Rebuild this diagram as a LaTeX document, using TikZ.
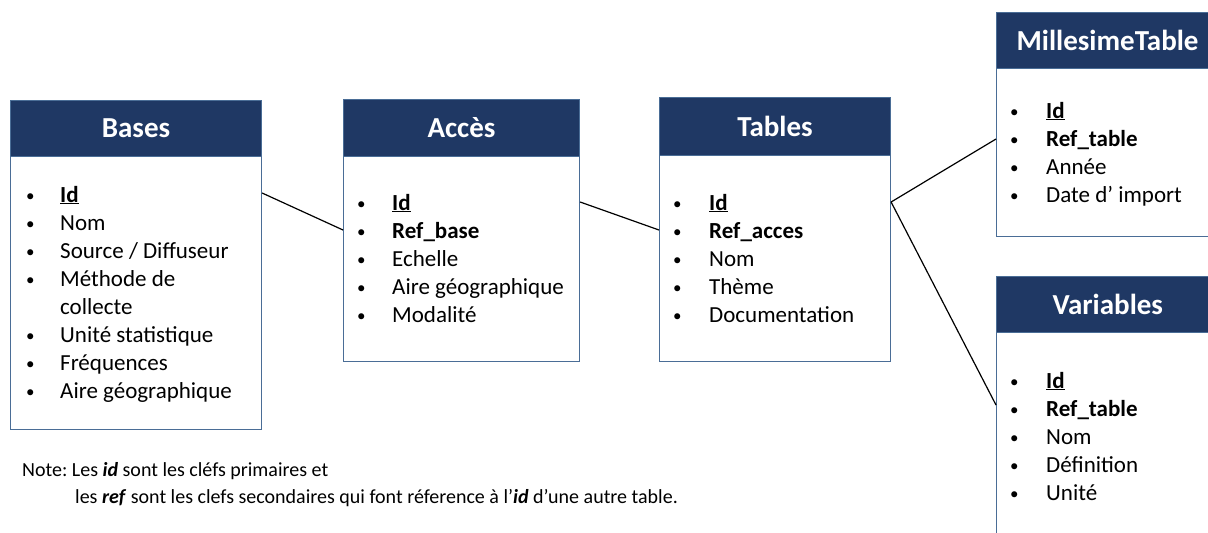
\documentclass[tikz,border=0pt]{standalone}
\usepackage{fontspec}
\setmainfont{Carlito}
\definecolor{navy}{HTML}{1F3864}
\definecolor{edge}{HTML}{4A6D96}
\begin{document}
\frenchspacing
\begin{tikzpicture}[x=1pt,y=-1pt,
  tbox/.style={draw=edge,line width=1.1pt,fill=white,anchor=north west,inner sep=0pt},
  thead/.style={draw=edge,line width=1.1pt,fill=navy,anchor=north west,inner sep=0pt,text=white,font=\fontsize{29}{33}\selectfont\bfseries},
  itm/.style={anchor=base west,inner sep=0pt,font=\fontsize{23}{27}\selectfont},
  bul/.style={anchor=base west,inner sep=0pt,font=\fontsize{17}{20}\selectfont},
  link/.style={line width=1.2pt,black},
  note/.style={anchor=base west,inner sep=0pt,font=\fontsize{20}{24}\selectfont}]
\clip (0,0) rectangle (1208,533);
\useasboundingbox (0,0) rectangle (1208,533);
\fill[white] (0,0) rectangle (1208,533);
% Bases
\node[tbox,minimum width=251,minimum height=329] (bases) at (10,100) {};
\node[thead,minimum width=251,minimum height=56] (basesh) at (10,100) {Bases};
\foreach \t [count=\i from 0] in {{\underline{\textbf{Id}}},Nom,Source / Diffuseur,Méthode de,,Unité statistique,Fréquences,Aire géographique}{
  \node[itm] (b\i) at (60,202+28*\i) {\t};
}
\foreach \i in {0,1,2,3,5,6,7}{\node[bul] (bb\i) at (26,201+28*\i) {•};}
\node[itm] (bcol) at (60,202+28*4) {collecte};
% Acces
\node[tbox,minimum width=236,minimum height=262] (acces) at (343,99) {};
\node[thead,minimum width=236,minimum height=57] (accesh) at (343,99) {Accès};
\foreach \t [count=\i from 0] in {{\underline{\textbf{Id}}},{\textbf{Ref\_base}},Echelle,Aire géographique,Modalité}{
  \node[itm] (a\i) at (392,210+28*\i) {\t};
  \node[bul] (ab\i) at (357,209+28*\i) {•};
}
% Tables
\node[tbox,minimum width=231,minimum height=264] (tables) at (659,97) {};
\node[thead,minimum width=231,minimum height=58] (tablesh) at (659,97) {Tables};
\foreach \t [count=\i from 0] in {{\underline{\textbf{Id}}},{\textbf{Ref\_acces}},Nom,Thème,Documentation}{
  \node[itm] (t\i) at (709,210+28*\i) {\t};
  \node[bul] (tb\i) at (673,209+28*\i) {•};
}
% MillesimeTable
\node[tbox,minimum width=230,minimum height=224] (mill) at (996,12) {};
\node[thead,minimum width=230,minimum height=56,text width=212,align=left] (millh) at (996,12) {\hspace*{11pt}MillesimeTable};
\foreach \t [count=\i from 0] in {{\underline{\textbf{Id}}},{\textbf{Ref\_table}},Année,Date d’ import}{
  \node[itm] (m\i) at (1046,118+28*\i) {\t};
  \node[bul] (mb\i) at (1010,117+28*\i) {•};
}
% Variables
\node[tbox,minimum width=230,minimum height=300] (vars) at (996,276) {};
\node[thead,minimum width=230,minimum height=56,text width=212,align=left] (varsh) at (996,276) {\hspace*{47pt}Variables};
\foreach \t [count=\i from 0] in {{\underline{\textbf{Id}}},{\textbf{Ref\_table}},Nom,Définition,Unité}{
  \node[itm] (v\i) at (1046,388+28*\i) {\t};
  \node[bul] (vb\i) at (1010,387+28*\i) {•};
}
% connectors
\draw[link] ([yshift=-93pt]bases.north east) -- ([yshift=-131pt]acces.north west);
\draw[link] ([yshift=-103pt]acces.north east) -- ([yshift=-133pt]tables.north west);
\draw[link] ([yshift=-105pt]tables.north east) -- ([yshift=-127pt]mill.north west);
\draw[link] ([yshift=-105pt]tables.north east) -- ([yshift=-129pt]vars.north west);
% note
\node[note] (n1) at (22,476) {Note: Les \textbf{\textit{id}} sont les cléfs primaires et};
\node[note] (n2) at (75,503) {les \textbf{\textit{ref}} sont les clefs secondaires qui font réference à l’\textbf{\textit{id}} d’une autre table.};
\end{tikzpicture}
\end{document}
